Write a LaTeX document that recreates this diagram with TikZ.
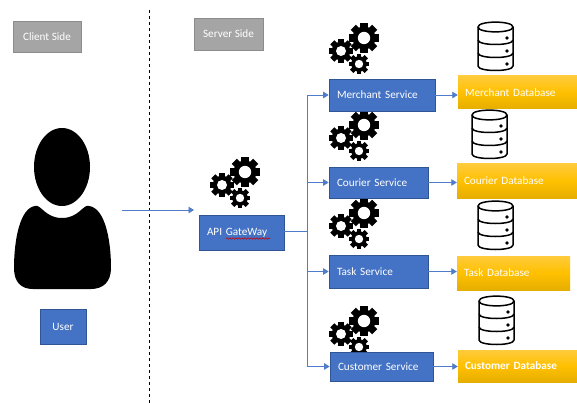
\documentclass[tikz,border=0pt]{standalone}
\usepackage{fontspec}
\setmainfont{Carlito}
\usetikzlibrary{arrows.meta,decorations.pathmorphing}
\definecolor{boxblue}{HTML}{4472C4}
\definecolor{boxedge}{HTML}{2F5597}
\definecolor{linkblue}{HTML}{4F7CCB}
\definecolor{sidegray}{HTML}{A5A5A5}
\definecolor{sideedge}{HTML}{8C8C8C}
\definecolor{goldtop}{HTML}{FFCB3C}
\definecolor{goldmid}{HTML}{FFC000}
\definecolor{goldlow}{HTML}{E5AE00}
\tikzset{
  bluebox/.style={draw=boxedge,fill=boxblue,text=white,font=\fontsize{11.2}{13}\selectfont,
    inner xsep=8pt,inner ysep=0pt,align=left,line width=0.7pt},
  graybox/.style={draw=sideedge,fill=sidegray,text=white,font=\fontsize{11.2}{13}\selectfont,
    inner xsep=0pt,inner ysep=0pt,align=center,line width=0.7pt},
  dbbox/.style={draw=none,top color=goldtop,bottom color=goldlow,middle color=goldmid,
    text=white,font=\fontsize{11.2}{13}\selectfont,
    inner xsep=7pt,inner ysep=0pt,align=left},
  link/.style={draw=linkblue,line width=0.8pt},
  arrowlink/.style={link,-{Triangle[length=5.5pt,width=6.5pt]}},
  pics/cog/.style={code={
    \fill[black] (0,0) circle (0.74*#1);
    \foreach \a in {0,45,...,315}
      \fill[black,rotate=\a] (0.6*#1,-0.23*#1) rectangle (0.98*#1,0.23*#1);
    \fill[white] (0,0) circle (0.4*#1);
  }},
  pics/gears/.style={code={
    \pic at (35,16) {cog=15.5};
    \pic at (12,29) {cog=12.5};
    \pic at (30,42) {cog=10.5};
  }},
  pics/dbicon/.style={code={
    \draw[black,line width=1.5pt,line join=round]
      (0,5) .. controls (0,-1.5) and (35,-1.5) .. (35,5)
      -- (35,44) .. controls (35,50) and (0,50) .. (0,44) -- cycle;
    \draw[black,line width=1.5pt] (0,5) .. controls (0,11.5) and (35,11.5) .. (35,5);
    \draw[black,line width=1.5pt] (0,18) .. controls (0,24) and (35,24) .. (35,18);
    \draw[black,line width=1.5pt] (0,31) .. controls (0,37) and (35,37) .. (35,31);
    \foreach \h in {16,29,42}
      \fill[black] (29,\h) circle (1.8);
  }}
}
\begin{document}
\begin{tikzpicture}[x=1pt,y=-1pt]
  \useasboundingbox (0,0) rectangle (577,403);
  % side labels and divider
  \node[graybox,minimum width=68pt,minimum height=31pt] (client) at (47,36.5) {Client Side};
  \node[graybox,minimum width=69pt,minimum height=32pt] (server) at (228.5,34) {Server Side};
  \coordinate (dividertop) at (149,10);
  \coordinate (dividerbottom) at (149,403);
  \draw[black,dashed,line width=0.6pt] (dividertop) -- (dividerbottom);
  % user figure
  \fill[black] (62,167) ellipse (28 and 39);
  \fill[black] (35,206)
    .. controls (41,204) and (45,218) .. (62,218)
    .. controls (79,218) and (83,204) .. (89,206)
    .. controls (105,208) and (111,240) .. (111,268)
    .. controls (111,282) and (103,289) .. (91,289)
    -- (33,289)
    .. controls (21,289) and (14,282) .. (14,268)
    .. controls (14,240) and (20,208) .. (35,206) -- cycle;
  \node[bluebox,minimum width=46pt,minimum height=35pt,inner xsep=0pt] (user) at (63,326.5) {User};
  % gateway
  \pic at (210,156) {gears};
  \node[bluebox,minimum width=85pt,minimum height=35pt,text width=69pt] (gateway) at (241.5,232.5) {API GateWay};
  \draw[red!80!black,line width=0.6pt,decorate,decoration={snake,amplitude=0.7pt,segment length=3pt}]
    (226,238.5) -- (270,238.5);
  % services
  \pic at (329,22) {gears};
  \pic at (329,109) {gears};
  \pic at (329,197) {gears};
  \pic at (329,305) {gears};
  \node[bluebox,minimum width=106pt,minimum height=32pt,text width=90pt] (merchant) at (382,95) {Merchant Service};
  \node[bluebox,minimum width=99pt,minimum height=31pt,text width=83pt] (courier) at (378.5,182.5) {Courier Service};
  \node[bluebox,minimum width=99pt,minimum height=33pt,text width=83pt] (task) at (378.5,271.5) {Task Service};
  \node[bluebox,minimum width=103pt,minimum height=29pt,text width=87pt] (customer) at (381.5,366.5) {Customer Service};
  % databases
  \pic at (478,22) {dbicon};
  \pic at (472,110) {dbicon};
  \pic at (478,201) {dbicon};
  \pic at (479,296) {dbicon};
  \node[dbbox,minimum width=119pt,minimum height=33pt,text width=105pt] (merchantdb) at (517.5,92.5) {Merchant Database};
  \node[dbbox,minimum width=120pt,minimum height=34pt,text width=106pt] (courierdb) at (517,181) {Courier Database};
  \node[dbbox,minimum width=113pt,minimum height=34pt,text width=99pt] (taskdb) at (513.5,273) {Task Database};
  \node[dbbox,minimum width=119pt,minimum height=32pt,text width=105pt,font=\fontsize{11.2}{13}\bfseries] (customerdb) at (517.5,366) {Customer Database};
  % connectors
  \coordinate (userout) at (122,210);
  \coordinate (gatewayin) at (194,210);
  \coordinate (trunk) at (307,231);
  \draw[arrowlink] (userout) -- (gatewayin);
  \draw[link] (gateway.east |- trunk) -- (trunk);
  \draw[arrowlink] (trunk) |- (merchant.west);
  \draw[arrowlink] (trunk) |- (courier.west);
  \draw[arrowlink] (trunk) |- (task.west);
  \draw[arrowlink] (trunk) |- (customer.west);
  \draw[arrowlink] (merchant.east) -- (merchantdb.west |- merchant.east);
  \draw[arrowlink] (courier.east) -- (courierdb.west |- courier.east);
  \draw[arrowlink] (task.east) -- (taskdb.west |- task.east);
  \draw[arrowlink] (customer.east) -- (customerdb.west |- customer.east);
\end{tikzpicture}
\end{document}
